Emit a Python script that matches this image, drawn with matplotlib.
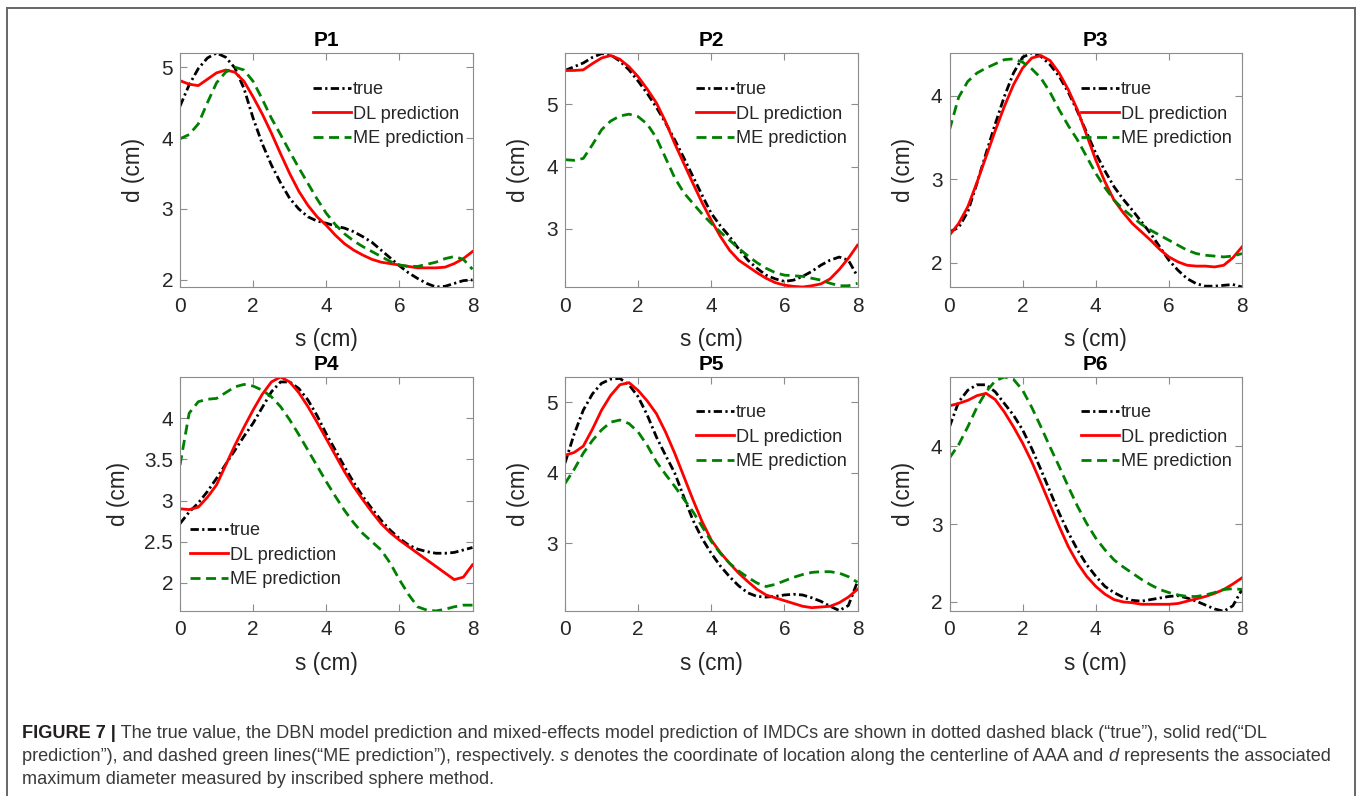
import matplotlib
matplotlib.use('Agg')
import matplotlib.pyplot as plt
from matplotlib.lines import Line2D

plt.rcParams['font.family'] = ['Liberation Sans', 'DejaVu Sans']

# s (cm) sample positions shared by every curve
S = [0, 0.25, 0.5, 0.75, 1, 1.25, 1.5, 1.75, 2, 2.25, 2.5, 2.75, 3, 3.25, 3.5, 3.75, 4,
     4.25, 4.5, 4.75, 5, 5.25, 5.5, 5.75, 6, 6.25, 6.5, 6.75, 7, 7.25, 7.5, 7.75, 8]

p1_true = [4.45, 4.75, 4.98, 5.13, 5.20, 5.14, 4.99, 4.70, 4.28, 3.92, 3.62, 3.37, 3.15, 3.00, 2.89, 2.83, 2.80,
           2.76, 2.73, 2.68, 2.61, 2.53, 2.42, 2.31, 2.20, 2.10, 2.02, 1.95, 1.90, 1.91, 1.95, 1.99, 2.00]
p1_dl = [4.81, 4.76, 4.74, 4.83, 4.92, 4.96, 4.93, 4.80, 4.58, 4.34, 4.07, 3.78, 3.50, 3.25, 3.05, 2.89, 2.77,
         2.63, 2.51, 2.42, 2.35, 2.29, 2.25, 2.23, 2.21, 2.19, 2.17, 2.17, 2.17, 2.18, 2.23, 2.30, 2.40]
p1_me = [3.99, 4.05, 4.20, 4.50, 4.78, 4.93, 5.00, 4.96, 4.80, 4.55, 4.28, 4.05, 3.81, 3.58, 3.36, 3.14, 2.94,
         2.78, 2.65, 2.55, 2.47, 2.40, 2.33, 2.26, 2.21, 2.19, 2.19, 2.22, 2.25, 2.30, 2.33, 2.29, 2.15]

p2_true = [5.54, 5.60, 5.66, 5.75, 5.81, 5.79, 5.69, 5.55, 5.37, 5.17, 4.95, 4.70, 4.43, 4.14, 3.84, 3.54, 3.25,
           3.05, 2.88, 2.68, 2.50, 2.37, 2.26, 2.20, 2.16, 2.18, 2.24, 2.32, 2.42, 2.50, 2.55, 2.50, 2.24]
p2_dl = [5.54, 5.54, 5.55, 5.65, 5.74, 5.78, 5.72, 5.60, 5.44, 5.24, 5.02, 4.72, 4.37, 4.05, 3.73, 3.42, 3.14,
         2.88, 2.66, 2.50, 2.40, 2.30, 2.21, 2.14, 2.10, 2.08, 2.07, 2.09, 2.12, 2.20, 2.35, 2.53, 2.74]
p2_me = [4.11, 4.10, 4.13, 4.35, 4.59, 4.73, 4.81, 4.84, 4.80, 4.68, 4.46, 4.14, 3.82, 3.58, 3.41, 3.24, 3.09,
         2.95, 2.82, 2.69, 2.57, 2.46, 2.37, 2.30, 2.26, 2.25, 2.24, 2.21, 2.18, 2.13, 2.09, 2.09, 2.13]

p3_true = [2.37, 2.42, 2.61, 2.95, 3.31, 3.66, 3.99, 4.27, 4.46, 4.51, 4.47, 4.37, 4.23, 4.04, 3.81, 3.56, 3.31,
           3.10, 2.91, 2.76, 2.63, 2.49, 2.35, 2.19, 2.03, 1.91, 1.81, 1.75, 1.72, 1.72, 1.73, 1.74, 1.71]
p3_dl = [2.33, 2.47, 2.67, 2.96, 3.27, 3.58, 3.87, 4.13, 4.33, 4.45, 4.48, 4.42, 4.27, 4.07, 3.83, 3.53, 3.23,
         2.97, 2.75, 2.60, 2.47, 2.37, 2.27, 2.16, 2.07, 2.01, 1.97, 1.96, 1.96, 1.95, 1.97, 2.06, 2.19]
p3_me = [3.59, 3.98, 4.17, 4.27, 4.33, 4.38, 4.43, 4.44, 4.40, 4.32, 4.21, 4.04, 3.83, 3.64, 3.47, 3.27, 3.07,
         2.90, 2.75, 2.64, 2.55, 2.46, 2.39, 2.33, 2.27, 2.21, 2.15, 2.11, 2.09, 2.08, 2.07, 2.08, 2.11]

p4_true = [2.72, 2.86, 2.97, 3.11, 3.27, 3.44, 3.61, 3.78, 3.94, 4.13, 4.32, 4.44, 4.44, 4.36, 4.22, 4.03, 3.81,
           3.61, 3.41, 3.22, 3.05, 2.90, 2.76, 2.64, 2.54, 2.46, 2.41, 2.38, 2.36, 2.36, 2.37, 2.40, 2.43]
p4_dl = [2.90, 2.89, 2.92, 3.04, 3.19, 3.43, 3.67, 3.89, 4.10, 4.29, 4.44, 4.50, 4.44, 4.31, 4.14, 3.95, 3.75,
         3.55, 3.35, 3.17, 3.01, 2.86, 2.72, 2.61, 2.52, 2.44, 2.36, 2.28, 2.20, 2.12, 2.04, 2.07, 2.22]
p4_me = [3.43, 4.06, 4.20, 4.23, 4.24, 4.31, 4.38, 4.41, 4.39, 4.34, 4.26, 4.14, 3.98, 3.80, 3.61, 3.42, 3.23,
         3.05, 2.88, 2.73, 2.60, 2.50, 2.40, 2.24, 2.04, 1.86, 1.71, 1.67, 1.66, 1.68, 1.71, 1.73, 1.73]

p5_true = [4.14, 4.55, 4.89, 5.12, 5.27, 5.33, 5.34, 5.25, 5.08, 4.82, 4.51, 4.25, 4.00, 3.66, 3.33, 3.07, 2.86,
           2.68, 2.53, 2.40, 2.30, 2.25, 2.24, 2.25, 2.27, 2.28, 2.27, 2.23, 2.18, 2.11, 2.05, 2.12, 2.46]
p5_dl = [4.25, 4.29, 4.38, 4.62, 4.89, 5.10, 5.25, 5.28, 5.17, 5.02, 4.84, 4.58, 4.28, 3.95, 3.62, 3.31, 3.05,
         2.87, 2.72, 2.58, 2.46, 2.35, 2.27, 2.23, 2.19, 2.15, 2.11, 2.09, 2.10, 2.11, 2.16, 2.24, 2.35]
p5_me = [3.85, 4.05, 4.28, 4.46, 4.61, 4.72, 4.75, 4.70, 4.58, 4.39, 4.16, 3.98, 3.81, 3.63, 3.45, 3.24, 3.03,
         2.86, 2.72, 2.61, 2.52, 2.44, 2.39, 2.42, 2.47, 2.52, 2.56, 2.59, 2.60, 2.60, 2.58, 2.53, 2.45]

p6_true = [4.25, 4.57, 4.72, 4.79, 4.79, 4.70, 4.55, 4.40, 4.21, 3.97, 3.70, 3.42, 3.14, 2.89, 2.67, 2.48, 2.33,
           2.20, 2.12, 2.06, 2.02, 2.01, 2.03, 2.05, 2.07, 2.08, 2.05, 2.01, 1.96, 1.91, 1.88, 1.95, 2.16]
p6_dl = [4.52, 4.55, 4.59, 4.65, 4.68, 4.60, 4.44, 4.25, 4.04, 3.80, 3.53, 3.25, 2.97, 2.71, 2.50, 2.33, 2.20,
         2.10, 2.03, 2.00, 1.99, 1.97, 1.97, 1.97, 1.97, 1.98, 2.01, 2.04, 2.07, 2.11, 2.16, 2.23, 2.31]
p6_me = [3.85, 4.02, 4.25, 4.50, 4.70, 4.84, 4.89, 4.86, 4.72, 4.50, 4.25, 3.99, 3.74, 3.48, 3.23, 3.01, 2.82,
         2.67, 2.54, 2.45, 2.37, 2.29, 2.22, 2.16, 2.12, 2.09, 2.07, 2.07, 2.09, 2.12, 2.16, 2.17, 2.16]

titles = ['P1', 'P2', 'P3', 'P4', 'P5', 'P6']
series = [(p1_true, p1_dl, p1_me), (p2_true, p2_dl, p2_me), (p3_true, p3_dl, p3_me),
          (p4_true, p4_dl, p4_me), (p5_true, p5_dl, p5_me), (p6_true, p6_dl, p6_me)]
ylims = [(1.9, 5.2), (2.07, 5.82), (1.71, 4.51), (1.665, 4.5), (2.05, 5.36), (1.89, 4.89)]
yticks = [[2, 3, 4, 5], [3, 4, 5], [2, 3, 4], [2, 2.5, 3, 3.5, 4], [3, 4, 5], [2, 3, 4]]
xticks = [0, 2, 4, 6, 8]
labels = ['true', 'DL prediction', 'ME prediction']

W, H = 1358, 796
fig = plt.figure(figsize=(W / 100, H / 100), dpi=100)

# axes boxes in pixels: left, top, right, bottom
cols = [(180, 472.5), (565, 857.5), (949.5, 1242)]
rows = [(53, 287), (377, 610.5)]
# legend anchor (handle start x, top y) in pixels
leg_pos = [(313, 81), (696, 81), (1081, 81), (190, 522), (696, 404), (1081, 404)]
ylab_x = [-0.118, -0.118, -0.118, -0.172, -0.118, -0.118]

txt_col = '#262626'
for i in range(6):
    l, r = cols[i % 3]
    t, b = rows[i // 3]
    ax = fig.add_axes([l / W, 1 - b / H, (r - l) / W, (b - t) / H])
    tr, dl, me = series[i]
    h1, = ax.plot(S, tr, color='black', lw=2, linestyle=(0, (3, 1.2, 0.8, 1.2)))
    h2, = ax.plot(S, dl, color='#ff0000', lw=2, linestyle='-')
    h3, = ax.plot(S, me, color='#008000', lw=2, linestyle=(0, (3.6, 2.0)))
    ax.set_xlim(0, 8)
    ax.set_ylim(*ylims[i])
    ax.set_xticks(xticks)
    ax.set_yticks(yticks[i])
    ax.set_yticklabels([('%g' % v) for v in yticks[i]])
    ax.tick_params(direction='in', length=5, width=0.8, top=True, right=True,
                   labelsize=15, color='#8c8c8c', labelcolor=txt_col)
    ax.tick_params(axis='x', pad=7)
    ax.tick_params(axis='y', pad=5)
    for sp in ax.spines.values():
        sp.set_color('#8c8c8c')
        sp.set_linewidth(0.8)
    ax.set_title(titles[i], fontsize=15, fontweight='bold', pad=5, color='black')
    ax.set_xlabel('s (cm)', fontsize=16.3, color=txt_col, labelpad=9)
    ax.set_ylabel('d (cm)', fontsize=16.3, color=txt_col)
    ax.yaxis.set_label_coords(ylab_x[i], 0.5)
    lx, ly = leg_pos[i]
    leg = ax.legend([h1, h2, h3], labels, loc='upper left',
                    bbox_to_anchor=(lx / W, 1 - ly / H), bbox_transform=fig.transFigure,
                    frameon=False, borderpad=0, borderaxespad=0, handlelength=2.1,
                    handletextpad=0.1, labelspacing=0.42, fontsize=13.1)
    for tx in leg.get_texts():
        tx.set_color(txt_col)

# frame around the figure panel
border = '#666666'
fig.add_artist(Line2D([7 / W, 7 / W], [0, 1 - 8 / H], transform=fig.transFigure, color=border, lw=1.4))
fig.add_artist(Line2D([7 / W, 1355 / W], [1 - 8 / H, 1 - 8 / H], transform=fig.transFigure, color=border, lw=1.4))
fig.add_artist(Line2D([1355 / W, 1355 / W], [0, 1 - 8 / H], transform=fig.transFigure, color=border, lw=1.4))

# caption, written piece by piece so bold / italic parts line up
renderer = fig.canvas.get_renderer()
cap_col = '#3a3a3a'


def caption_line(x, y, pieces):
    for txt, kw in pieces:
        t = fig.text(x / W, 1 - y / H, txt, fontsize=13.05, va='baseline', **kw)
        x += t.get_window_extent(renderer=renderer).width


caption_line(22, 738, [
    ('FIGURE 7 |', dict(fontweight='bold', color='#231f20')),
    (' The true value, the DBN model prediction and mixed-effects model prediction of IMDCs '
     'are shown in dotted dashed black (\u201ctrue\u201d), solid red(\u201cDL', dict(color=cap_col)),
])
caption_line(22, 761, [
    ('prediction\u201d), and dashed green lines(\u201cME prediction\u201d), respectively.', dict(color=cap_col)),
    (' s', dict(style='italic', color=cap_col)),
    (' denotes the coordinate of location along the centerline of AAA and', dict(color=cap_col)),
    (' d', dict(style='italic', color=cap_col)),
    (' represents the associated', dict(color=cap_col)),
])
caption_line(22, 784, [
    ('maximum diameter measured by inscribed sphere method.', dict(color=cap_col)),
])

fig.savefig('out.png', dpi=100)
